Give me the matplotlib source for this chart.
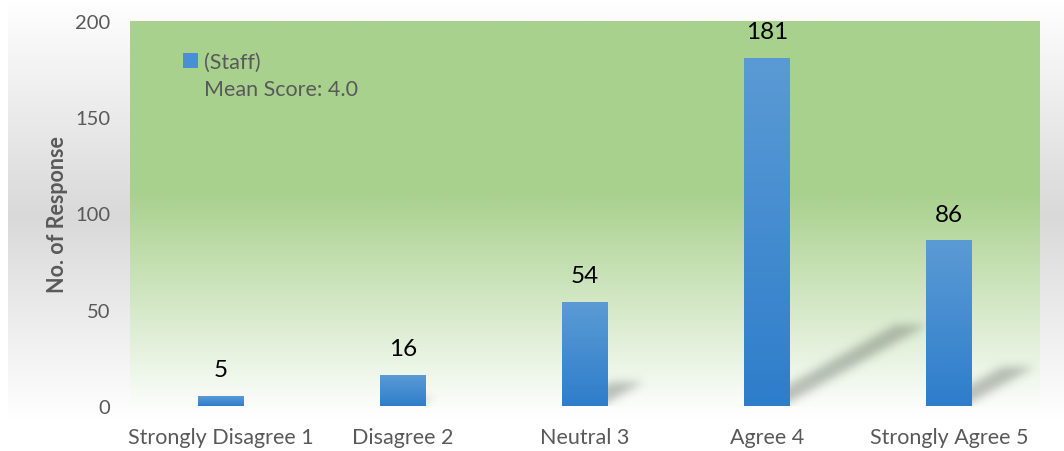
import numpy as np
import matplotlib
matplotlib.use("Agg")
import matplotlib.pyplot as plt
from matplotlib.colors import LinearSegmentedColormap, to_rgb
from matplotlib.patches import Rectangle

# ---- data ----
categories = ["Strongly Disagree 1", "Disagree 2", "Neutral 3", "Agree 4", "Strongly Agree 5"]
responses = [5, 16, 54, 181, 86]
series_label = "(Staff)"
mean_note = "Mean Score: 4.0"
y_ticks = [0, 50, 100, 150, 200]
y_label = "No. of Response"

FONT = "Lato"
TXT = "#595959"
W_PX, H_PX, DPI = 1064, 452, 100

fig = plt.figure(figsize=(W_PX / DPI, H_PX / DPI), dpi=DPI)
fig.patch.set_facecolor("white")


def vgrad(stops, n):
    """Vertical gradient (top->bottom) built from (fraction, colour) stops."""
    t = np.linspace(0, 1, n)
    pos = [s[0] for s in stops]
    cols = np.array([to_rgb(s[1]) for s in stops])
    return np.stack([np.interp(t, pos, cols[:, c]) for c in range(3)], axis=1)


# chart-area background: white -> light grey -> white, with a thin white margin at left
g = vgrad([(0.0, "#ffffff"), (0.48, "#d9d9d9"), (0.93, "#ffffff"), (1.0, "#ffffff")], H_PX)
bg = np.repeat(g[:, None, :], W_PX, axis=1)
bg[:, :8, :] = 1.0
fig.figimage(bg, xo=0, yo=0, origin="upper", zorder=-10)

ax = fig.add_axes([130 / W_PX, 45 / H_PX, 910 / W_PX, 385 / H_PX])
ax.patch.set_visible(False)
x = np.arange(len(categories))
ax.set_xlim(-0.5, len(categories) - 0.5)
ax.set_ylim(0, 200)

# plot-area fill: solid green in the upper part, fading to white at the baseline
green = vgrad([(0.0, "#a9d18e"), (0.45, "#a9d18e"), (1.0, "#fbfdfa")], 400)
ax.imshow(green[:, None, :].repeat(2, axis=1), extent=(-0.5, len(categories) - 0.5, 0, 200),
          aspect="auto", origin="upper", zorder=0, interpolation="bilinear")

# perspective shadows cast by the bars (blurred parallelograms)
bb = ax.get_window_extent()
Wp, Hp = int(round(bb.width)), int(round(bb.height))
px_per_x = Wp / len(categories)
px_per_y = Hp / 200.0
alpha = np.zeros((Hp, Wp))
rows = np.arange(Hp)[:, None]
cols = np.arange(Wp)[None, :]
for i, v in enumerate(responses):
    h = v * px_per_y
    cx = (x[i] + 0.5) * px_per_x
    dx, dy, hw = 0.41 * h, 0.23 * h, 16.0
    if dy < 1:
        continue
    centre = cx + dx * rows / dy
    inside = (rows <= dy) & (np.abs(cols - centre) <= hw)
    alpha = np.maximum(alpha, inside * 1.0)


def blur(a, s):
    r = int(3 * s)
    k = np.exp(-0.5 * (np.arange(-r, r + 1) / s) ** 2)
    k /= k.sum()
    a = np.apply_along_axis(lambda m: np.convolve(m, k, mode="same"), 0, a)
    a = np.apply_along_axis(lambda m: np.convolve(m, k, mode="same"), 1, a)
    return a


alpha = blur(alpha, 4.5) * 0.38
shadow = np.zeros((Hp, Wp, 4))
shadow[..., :3] = (0.33, 0.37, 0.33)
shadow[..., 3] = alpha
ax.imshow(shadow, extent=(-0.5, len(categories) - 0.5, 0, 200), origin="lower",
          aspect="auto", zorder=1, interpolation="bilinear")

# bars with a light-to-dark blue gradient
bar_cmap = LinearSegmentedColormap.from_list("barblue", ["#2e7dcb", "#5b9bd5"])
bars = ax.bar(x, responses, width=0.25, color="#4a8fd3", zorder=2, label=series_label)
grad = np.linspace(0, 1, 256)[:, None]
for b in bars:
    x0, w, hgt = b.get_x(), b.get_width(), b.get_height()
    im = ax.imshow(grad, extent=(x0, x0 + w, 0, hgt), origin="lower", cmap=bar_cmap,
                   aspect="auto", zorder=3, interpolation="bilinear")
    im.set_clip_path(b)

ax.set_xlim(-0.5, len(categories) - 0.5)
ax.set_ylim(0, 200)

# value labels
for xi, v in zip(x, responses):
    ax.annotate(str(v), (xi, v), xytext=(0, 19), textcoords="offset points",
                ha="center", va="center", fontsize=17.5, family=FONT, color="black", zorder=5)

# axes styling
for s in ax.spines.values():
    s.set_visible(False)
ax.set_xticks(x)
ax.set_xticklabels(categories, fontsize=15.5, family=FONT, color=TXT)
ax.set_yticks(y_ticks)
ax.set_yticklabels([str(t) for t in y_ticks], fontsize=14.5, family=FONT, color=TXT)
ax.tick_params(axis="both", length=0)
ax.tick_params(axis="x", pad=15)
ax.tick_params(axis="y", pad=14)
ax.set_ylabel(y_label, fontsize=15.5, family=FONT, fontweight="bold", color=TXT, labelpad=5)

# legend: series swatch plus the mean-score note
note_handle = Rectangle((0, 0), 1, 1, facecolor="none", edgecolor="none")
ax.legend([bars, note_handle], [series_label, mean_note], loc="upper left",
          bbox_to_anchor=(0.058, 0.92), frameon=False, borderpad=0, borderaxespad=0,
          handlelength=0.7, handleheight=0.7, handletextpad=0.3, labelspacing=0.35,
          prop={"family": FONT, "size": 15.5}, labelcolor=TXT)

fig.savefig("out.png", dpi=DPI)
